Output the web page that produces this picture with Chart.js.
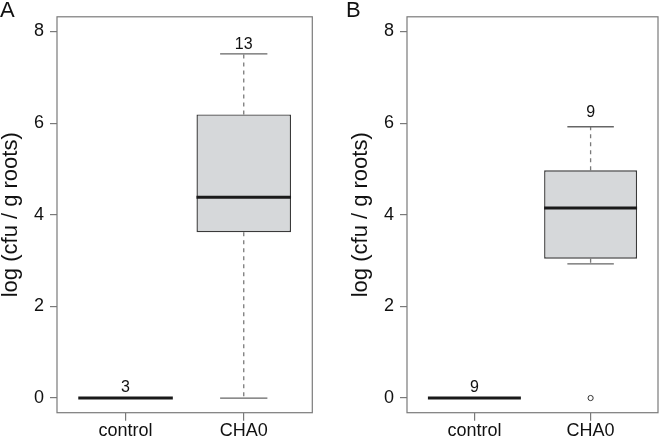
<!DOCTYPE html>
<html><head><meta charset="utf-8">
<script src="https://cdn.jsdelivr.net/npm/chart.js@4"></script>
<style>
html,body{margin:0;padding:0;background:#fff;}
#wrap{position:relative;width:663px;height:437px;overflow:hidden;}
.panel{position:absolute;top:0;height:437px;}
#pa{left:0;width:350px;}
#pb{left:350px;width:313px;}
.letter{position:absolute;top:-1px;font:22px "Liberation Sans",Arial,sans-serif;line-height:22px;color:#111;}
</style></head><body>
<div id="wrap">
<div class="panel" id="pa"><canvas id="ca"></canvas></div>
<div class="panel" id="pb"><canvas id="cb"></canvas></div>
<div class="letter" style="left:0px">A</div>
<div class="letter" style="left:346px">B</div>
</div>
<script>
// ---- data ----
const categories = ['control', 'CHA0'];
const yTicks = [0, 2, 4, 6, 8];
const yTitle = 'log (cfu / g roots)';

// panel A
const aMin = [0, 0];
const aQ1  = [0, 3.62];
const aMed = [0, 4.38];
const aQ3  = [0, 6.19];
const aMax = [0, 7.51];
const aN   = ['3', '13'];
const aNAt = [0.235, 7.72];
const aOut = [[], []];

// panel B
const bMin = [0, 2.93];
const bQ1  = [0, 3.04];
const bMed = [0, 4.15];
const bQ3  = [0, 4.97];
const bMax = [0, 5.92];
const bN   = ['9', '9'];
const bNAt = [0.235, 6.23];
const bOut = [[], [0]];

const FONT = '"Liberation Sans", Arial, sans-serif';
Chart.defaults.font.family = FONT;
Chart.defaults.color = '#111';

function boxPlugin(s) {
  return {
    id: 'boxes',
    beforeDatasetsDraw(chart) {
      const {ctx, scales: {x, y}} = chart;
      ctx.save();
      for (let i = 0; i < categories.length; i++) {
        const cx = x.getPixelForValue(i + 1);
        const l = x.getPixelForValue(i + 1 - 0.2), r = x.getPixelForValue(i + 1 + 0.2);
        ctx.strokeStyle = '#7a7a7a';
        ctx.lineWidth = 1.3;
        ctx.setLineDash([4, 4]);
        ctx.beginPath();
        ctx.moveTo(cx, y.getPixelForValue(s.q3[i])); ctx.lineTo(cx, y.getPixelForValue(s.max[i]));
        ctx.moveTo(cx, y.getPixelForValue(s.q1[i])); ctx.lineTo(cx, y.getPixelForValue(s.min[i]));
        ctx.stroke();
        ctx.setLineDash([]);
        ctx.strokeStyle = '#666';
        ctx.beginPath();
        ctx.moveTo(l, y.getPixelForValue(s.max[i])); ctx.lineTo(r, y.getPixelForValue(s.max[i]));
        ctx.moveTo(l, y.getPixelForValue(s.min[i])); ctx.lineTo(r, y.getPixelForValue(s.min[i]));
        ctx.stroke();
      }
      ctx.restore();
    },
    afterDatasetsDraw(chart) {
      const {ctx, scales: {x, y}} = chart;
      ctx.save();
      for (let i = 0; i < categories.length; i++) {
        const l = x.getPixelForValue(i + 1 - 0.4), r = x.getPixelForValue(i + 1 + 0.4);
        const my = y.getPixelForValue(s.med[i]);
        ctx.strokeStyle = '#1a1a1a';
        ctx.lineWidth = 3;
        ctx.beginPath();
        ctx.moveTo(l, my); ctx.lineTo(r, my);
        ctx.stroke();
        ctx.fillStyle = '#111';
        ctx.font = '16px ' + FONT;
        ctx.textAlign = 'center';
        ctx.textBaseline = 'middle';
        ctx.fillText(s.n[i], x.getPixelForValue(i + 1), y.getPixelForValue(s.nAt[i]));
      }
      ctx.restore();
    },
    afterDraw(chart) {
      const {ctx, chartArea: a} = chart;
      ctx.save();
      ctx.strokeStyle = '#7a7a7a';
      ctx.lineWidth = 1.2;
      ctx.strokeRect(a.left, a.top, a.right - a.left, a.bottom - a.top);
      ctx.restore();
    }
  };
}

function makeChart(id, s, padRight) {
  const boxData = categories.map((c, i) => ({x: i + 1, y: [s.q1[i], s.q3[i]]}));
  const outData = [];
  s.out.forEach((arr, i) => arr.forEach(v => outData.push({x: i + 1, y: v})));
  return new Chart(document.getElementById(id), {
    type: 'bar',
    data: {
      datasets: [
        {
          type: 'bar',
          data: boxData,
          backgroundColor: '#d6d8da',
          borderColor: '#3a3a3a',
          borderWidth: 1.4,
          borderSkipped: false,
          categoryPercentage: 1,
          barPercentage: 0.8
        },
        {
          type: 'scatter',
          data: outData,
          pointStyle: 'circle',
          pointRadius: 2.6,
          pointBorderWidth: 1,
          pointBorderColor: '#333',
          pointBackgroundColor: 'rgba(255,255,255,0)'
        }
      ]
    },
    options: {
      responsive: true,
      maintainAspectRatio: false,
      animation: false,
      layout: {padding: {top: 16, right: padRight, left: 0, bottom: 0}},
      plugins: {legend: {display: false}, tooltip: {enabled: false}},
      scales: {
        x: {
          type: 'linear',
          offset: false,
          bounds: 'data',
          min: 0.42, max: 2.58,
          afterBuildTicks: sc => { sc.ticks = categories.map((c, i) => ({value: i + 1})); },
          afterFit: sc => { sc.height = 24.3; },
          ticks: {
            autoSkip: false,
            padding: 0,
            font: {size: 18},
            color: '#111',
            maxRotation: 0,
            callback: v => categories[Math.round(v) - 1]
          },
          grid: {offset: false, drawOnChartArea: false, drawTicks: true, tickLength: 8, tickColor: '#7a7a7a', lineWidth: 1.2},
          border: {display: false}
        },
        y: {
          type: 'linear',
          min: -0.32, max: 8.32,
          afterBuildTicks: sc => { sc.ticks = yTicks.map(v => ({value: v})); },
          afterFit: sc => { sc.width = 57; },
          ticks: {padding: 6, font: {size: 18}, color: '#111'},
          grid: {drawOnChartArea: false, drawTicks: true, tickLength: 7, tickColor: '#7a7a7a', lineWidth: 1.2},
          border: {display: false},
          title: {display: true, text: yTitle, font: {size: 22, lineHeight: 1.0}, color: '#111', padding: {top: 0, bottom: 0}}
        }
      }
    },
    plugins: [boxPlugin(s)]
  });
}

makeChart('ca', {min: aMin, q1: aQ1, med: aMed, q3: aQ3, max: aMax, n: aN, nAt: aNAt, out: aOut}, 37.7);
makeChart('cb', {min: bMin, q1: bQ1, med: bMed, q3: bQ3, max: bMax, n: bN, nAt: bNAt, out: bOut}, 0.7);
</script>
</body></html>
